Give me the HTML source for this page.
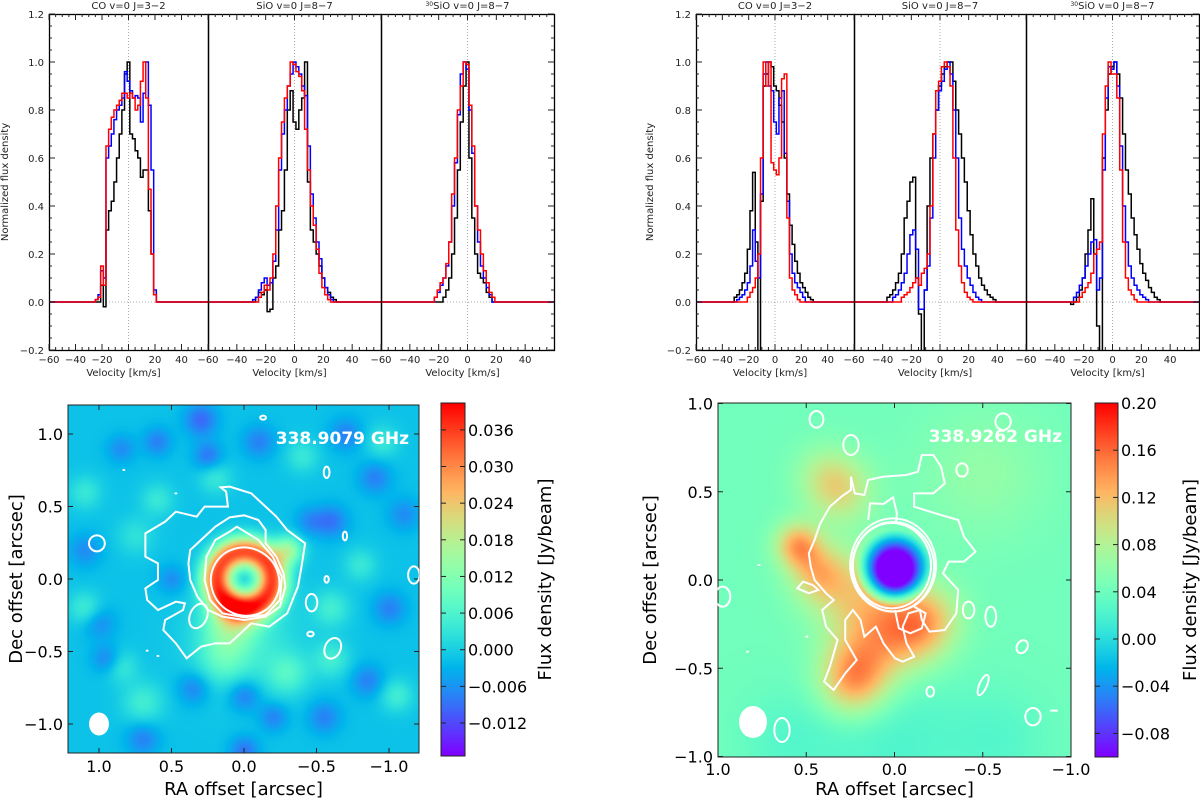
<!DOCTYPE html>
<html><head><meta charset="utf-8">
<style>
html,body{margin:0;padding:0;background:#fff;}
#root{position:relative;width:1200px;height:803px;overflow:hidden;font-family:"DejaVu Sans","Liberation Sans",sans-serif;}
canvas{position:absolute;}
svg{position:absolute;left:0;top:0;}
</style></head>
<body>
<div id="root">
<canvas id="mapL" width="351" height="348" style="left:68px;top:405px"></canvas>
<canvas id="mapR" width="353" height="354" style="left:718px;top:403px"></canvas>
<canvas id="cbL" width="24" height="353" style="left:441px;top:403px"></canvas>
<canvas id="cbR" width="23" height="354" style="left:1095px;top:403px"></canvas>
<svg id="svg" width="1200" height="803"></svg>
</div>
<script>
// ---------------- spectra data (2 km/s channels, first channel velocity given) ----------------
const seriesColors = ["#000000","#0000ff","#ff0000"];
const coL_start = [-22,-24,-24];
const coL_black = [0,0.07,-0.02,0.3,0.38,0.42,0.5,0.6,0.7,0.8,0.95,1.0,0.7,0.68,0.63,0.6,0.52,0.55,0.55,0.38,0.2,0.03,0.0];
const coL_blue  = [0.01,0.03,0.13,0.1,0.6,0.65,0.7,0.76,0.8,0.82,0.85,0.96,0.92,0.88,0.85,0.86,0.85,0.75,0.87,1.0,0.82,0.55,0.05,0.0];
const coL_red   = [0.01,0.02,0.15,0.07,0.65,0.72,0.77,0.8,0.82,0.84,0.87,0.87,0.85,0.87,0.85,0.8,0.82,0.92,1.0,0.85,0.47,0.2,0.03,0.0];
const sioL_start = [-26,-28,-24];
const sioL_black = [0.02,0.04,0.03,0.05,-0.04,-0.03,0.1,0.15,0.3,0.38,0.55,0.8,0.88,0.75,0.72,0.8,0.85,1.0,0.5,0.3,0.25,0.2,0.15,0.1,0.06,0.04,0.02,0.01];
const sioL_blue  = [0.01,0.02,0.05,0.08,0.1,0.07,0.08,0.17,0.3,0.55,0.7,0.8,0.9,0.95,1.0,0.98,0.95,0.9,0.86,0.65,0.45,0.35,0.25,0.18,0.1,0.06,0.03,0.01];
const sioL_red   = [0.02,0.04,0.07,0.05,0.1,0.2,0.4,0.6,0.75,0.85,0.9,1.0,0.99,0.96,0.94,0.88,0.72,0.55,0.4,0.32,0.22,0.12,0.06,0.03,0.01];
const si30L_start = [-18,-22,-22];
const si30L_black = [0.0,0.02,0.05,0.1,0.2,0.35,0.55,0.75,0.9,1.0,0.6,0.35,0.2,0.12,0.1,0.08,0.04,0.02];
const si30L_blue  = [0.02,0.04,0.07,0.1,0.15,0.25,0.4,0.58,0.78,0.95,1.0,0.97,0.8,0.62,0.4,0.25,0.15,0.1,0.06,0.03];
const si30L_red   = [0.02,0.05,0.08,0.1,0.16,0.25,0.45,0.6,0.8,0.9,1.0,0.99,0.82,0.65,0.4,0.3,0.2,0.13,0.08,0.04,0.02];
const coR_start = [-30,-28,-20];
const coR_black = [0.02,0.03,0.05,0.08,0.12,0.22,0.38,0.54,0.25,-0.3,0.42,0.9,0.95,1.0,0.98,0.9,0.88,0.82,0.75,0.6,0.45,0.32,0.24,0.17,0.12,0.08,0.06,0.04,0.02,0.01];
const coR_blue  = [0.01,0.02,0.03,0.05,0.08,0.15,0.3,0.17,0.1,0.45,0.95,1.0,0.9,0.88,0.75,0.7,0.85,0.88,0.62,0.42,0.2,0.12,0.08,0.06,0.04,0.02];
const coR_red   = [0.02,0.04,0.06,0.1,0.2,0.6,1.0,0.9,1.0,0.58,0.55,0.53,0.6,0.93,0.95,0.35,0.1,0.05,0.03,0.01];
const sioR_start = [-36,-32,-26];
const sioR_black = [0.02,0.03,0.05,0.08,0.12,0.2,0.35,0.42,0.5,0.52,0.1,-0.05,-0.25,0.05,0.4,0.6,0.7,0.8,0.9,0.95,0.98,1.0,1.0,0.92,0.8,0.7,0.6,0.5,0.38,0.28,0.2,0.15,0.1,0.07,0.05,0.03,0.02,0.01];
const sioR_blue  = [0.02,0.03,0.05,0.08,0.12,0.2,0.28,0.3,0.22,-0.03,-0.03,0.05,0.15,0.35,0.6,0.8,0.88,0.92,0.97,1.0,0.95,0.8,0.6,0.35,0.22,0.15,0.1,0.07,0.04,0.02,0.01];
const sioR_red   = [0.02,0.03,0.04,0.06,0.08,0.1,0.07,0.12,0.14,0.2,0.4,0.7,0.88,0.92,0.98,1.0,0.98,0.9,0.6,0.3,0.15,0.08,0.04,0.02,0.01];
const si30R_start = [-28,-26,-22];
const si30R_black = [-0.01,0.0,0.02,0.05,0.1,0.2,0.3,0.43,0.2,-0.1,-0.25,0.6,0.8,0.95,0.98,1.0,0.95,0.85,0.7,0.55,0.45,0.35,0.28,0.22,0.16,0.12,0.09,0.06,0.04,0.02,0.01];
const si30R_blue  = [0.02,0.04,0.07,0.1,0.15,0.2,0.25,0.26,0.05,0.1,0.55,0.85,0.98,0.97,1.0,0.9,0.65,0.4,0.25,0.15,0.1,0.07,0.05,0.03,0.02,0.01];
const si30R_red   = [0.02,0.04,0.06,0.08,0.12,0.2,0.22,0.25,0.7,0.9,1.0,0.95,0.95,0.85,0.55,0.25,0.1,0.05,0.03,0.01];

const panelTitles = ["CO v=0 J=3\u22122","SiO v=0 J=8\u22127","SiO v=0 J=8\u22127"];
const xTickLabels = [-60,-40,-20,0,20,40];
const yTickLabels = [-0.2,0.0,0.2,0.4,0.6,0.8,1.0,1.2];

// ---------------- maps data ----------------
const mapLTicks = [1.0,0.5,0.0,-0.5,-1.0];
const mapRTicks = [1.0,0.5,0.0,-0.5,-1.0];
const cbLTicks = [0.036,0.030,0.024,0.018,0.012,0.006,0.000,-0.006,-0.012];
const cbRTicks = [0.20,0.16,0.12,0.08,0.04,0.00,-0.04,-0.08];
const blobsL_ra  = [0.3,0.6,0.25,-0.1,-0.6,-0.9,-1.0,-0.85,1.0,0.95,0.35,0.0,-0.2,-0.55,0.7,0.0,0.5,1.1,0.85,1.1,0.85,-0.6,-1.05,0.2,-0.4,1.1,0.7,-0.8,-0.3,-0.6,0.75,-0.95, 0.1,-0.3,0.0,-0.7,0.6,-1.1,0.15,-0.45];
const blobsL_dec = [1.1,0.95,0.85,0.95,0.4,0.7,-0.2,-0.7,-0.3,-0.55,-0.75,-0.8,-0.95,-0.95,-1.1,-1.18,0.0,0.2,0.9,-0.2,-0.6,-0.55,-0.8,0.7,0.85,0.6,-0.85,0.1,-0.65,-0.2,0.3,0.95, -0.3,0.2,-0.4,1.0,0.55,0.45,-0.55,0.4];
const blobsL_sig = [0.08,0.07,0.07,0.08,0.08,0.08,0.08,0.08,0.08,0.07,0.08,0.08,0.07,0.08,0.08,0.07,0.07,0.08,0.07,0.08,0.08,0.09,0.08,0.08,0.08,0.08,0.1,0.08,0.1,0.09,0.09,0.08, 0.12,0.07,0.25,0.08,0.08,0.08,0.12,0.07];
const blobsL_amp = [-0.008,-0.006,-0.007,-0.006,-0.007,-0.006,-0.006,-0.006,-0.005,-0.006,-0.006,-0.007,-0.006,-0.006,-0.006,-0.007,-0.005,-0.005,-0.005,0.006,0.005,0.006,0.006,0.005,0.005,0.005,0.006,0.005,0.007,0.006,0.004,0.005, 0.012,0.016,0.006,-0.006,0.005,-0.005,0.006,-0.005];
const blobsR_ra  = [0.55,0.45,0.3,0.35,0.1,0.2,-0.1,-0.2,0.25,-0.5,0.0,0.6,-0.6,0.4];
const blobsR_dec = [0.2,0.05,0.5,0.0,-0.2,-0.5,-0.3,-0.2,-0.6,0.6,-0.9,-0.9,-0.9,0.6];
const blobsR_sig = [0.09,0.1,0.13,0.15,0.18,0.15,0.15,0.13,0.13,0.25,0.3,0.2,0.2,0.12];
const blobsR_amp = [0.085,0.04,0.05,0.05,0.065,0.07,0.06,0.04,0.045,0.02,-0.02,-0.015,-0.015,0.03];

// ---------------- helpers ----------------
const NS = "http://www.w3.org/2000/svg";
const svg = document.getElementById("svg");
function mk(tag, attrs, parent){
  const e = document.createElementNS(NS, tag);
  for (const k in attrs) e.setAttribute(k, attrs[k]);
  (parent||svg).appendChild(e);
  return e;
}
function txt(s, x, y, size, anchor, parent, extra){
  const t = mk("text", Object.assign({x:x,y:y,"font-size":size,"text-anchor":anchor||"middle",fill:"#222"}, extra||{}), parent);
  t.textContent = s;
  return t;
}
function fmt(v, d){ const s = Math.abs(v).toFixed(d); return (v<0?"\u2212":"")+s; }

// ---------------- spectra ----------------
const Y0 = 302, YS = 240;
function yv(v){ return Y0 - YS*v; }
function drawSpectraFigure(panels, sets, side, yLabelX, yTitleX){
  const g = mk("g", {});
  
  
  panels.forEach((p, pi) => {
    const [x0, x1] = p;
    const xs = v => x0 + (v + 60) * (x1 - x0) / 120;
    const pg = mk("g", {}, g);
    
    
    const cid = "clip"+side+pi;
    const cp = mk("clipPath", {id:cid}, pg);
    mk("rect", {x:x0, y:14, width:x1-x0, height:336}, cp);
    const z1 = mk("line", {x1:x0, x2:x1, y1:yv(0), y2:yv(0), stroke:"#aaa", "stroke-width":1, "stroke-dasharray":"1,2"}, pg);
    
    
    const z2 = mk("line", {x1:xs(0), x2:xs(0), y1:14, y2:350, stroke:"#aaa", "stroke-width":1, "stroke-dasharray":"1,2"}, pg);
    
    
    const s = sets[pi];
    const names = ["black","blue","red"];
    s.vals.forEach((vals, si) => {
      const v0 = s.starts[si];
      let d = "M" + xs(-60) + "," + yv(0) + " L" + xs(v0-1) + "," + yv(0);
      vals.forEach((val, i) => {
        const vc = v0 + 2*i;
        d += " L" + xs(vc-1) + "," + yv(val) + " L" + xs(vc+1) + "," + yv(val);
      });
      d += " L" + xs(v0 + 2*vals.length - 1) + "," + yv(0) + " L" + xs(60) + "," + yv(0);
      const path = mk("path", {d:d, fill:"none", stroke:seriesColors[si], "stroke-width":1.5, "clip-path":"url(#"+cid+")"}, pg);
      
      
    });
    const fr = mk("rect", {x:x0+0.5, y:14.5, width:x1-x0, height:336, fill:"none", stroke:"#000", "stroke-width":1.3}, pg);
    
    
    for (let v = -60; v < 60; v += 5){
      const major = v % 20 === 0;
      const L = major ? 6 : 3;
      mk("line", {x1:xs(v), x2:xs(v), y1:350, y2:350-L, stroke:"#222", "stroke-width":1}, pg);
      mk("line", {x1:xs(v), x2:xs(v), y1:14, y2:14+L, stroke:"#222", "stroke-width":1}, pg);
    }
    xTickLabels.forEach(v => {
      const t = txt(fmt(v,0), xs(v), 363, 10, "middle", pg);
      
      
    });
    const xt = txt("Velocity [km/s]", (x0+x1)/2 - 5, 376, 10, "middle", pg);
    
    
    const tt = txt(panelTitles[pi], (x0+x1)/2, 9, 10, "middle", pg);
    if (pi === 2){ tt.textContent = ""; const sup = mk("tspan", {"font-size":6, dy:-3}, tt); sup.textContent = "30"; const rest = mk("tspan", {dy:3}, tt); rest.textContent = panelTitles[pi]; }
    
    
  });
  const xL = panels[0][0], xR = panels[2][1];
  for (let v = -0.2; v <= 1.2001; v += 0.05){
    const major = Math.abs(Math.round(v*100) % 20) === 0;
    const L = major ? 6 : 3;
    mk("line", {x1:xL, x2:xL+L, y1:yv(v), y2:yv(v), stroke:"#222"}, g);
    mk("line", {x1:xR, x2:xR-L, y1:yv(v), y2:yv(v), stroke:"#222"}, g);
  }
  yTickLabels.forEach(v => {
    const t = txt(fmt(v,1), yLabelX, yv(v)+4, 10, "end", g);
    
    
  });
  const yt = txt("Normalized flux density", 0, 0, 10, "middle", g, {transform:"translate("+yTitleX+",182) rotate(-90)"});
  
  
}
drawSpectraFigure([[49,208],[208,381],[381,554]], [
  {starts:coL_start, vals:[coL_black,coL_blue,coL_red]},
  {starts:sioL_start, vals:[sioL_black,sioL_blue,sioL_red]},
  {starts:si30L_start, vals:[si30L_black,si30L_blue,si30L_red]}], "left", 44, 8);
drawSpectraFigure([[696,854],[854,1026],[1026,1199]], [
  {starts:coR_start, vals:[coR_black,coR_blue,coR_red]},
  {starts:sioR_start, vals:[sioR_black,sioR_blue,sioR_red]},
  {starts:si30R_start, vals:[si30R_black,si30R_blue,si30R_red]}], "right", 691, 653);

// ---------------- colormap ----------------
function rainbow(t){
  t = Math.max(0, Math.min(1, t));
  const r = Math.min(1, Math.abs(2*t - 0.5)), g = Math.sin(Math.PI*t), b = Math.cos(Math.PI*t/2);
  return [Math.round(r*255), Math.round(g*255), Math.round(b*255)];
}
function fillMap(id, w, h, pxToRa, pxToDec, field, vmin, vmax){
  const c = document.getElementById(id), ctx = c.getContext("2d");
  const img = ctx.createImageData(w, h);
  for (let j = 0; j < h; j++) for (let i = 0; i < w; i++){
    const col = rainbow((field(pxToRa(i), pxToDec(j)) - vmin) / (vmax - vmin));
    const k = 4*(j*w + i);
    img.data[k] = col[0]; img.data[k+1] = col[1]; img.data[k+2] = col[2]; img.data[k+3] = 255;
  }
  ctx.putImageData(img, 0, 0);
}
function fillBar(id, w, h){
  const c = document.getElementById(id), ctx = c.getContext("2d");
  for (let j = 0; j < h; j++){
    const col = rainbow(1 - j/(h-1));
    ctx.fillStyle = "rgb("+col.join(",")+")";
    ctx.fillRect(0, j, w, 1);
  }
}
const LV = [-0.0174, 0.0404];
fillMap("mapL", 351, 348, i => (244 - (68+i))/145, j => (579 - (405+j))/145, (ra, dec) => {
  let v = -0.0015;
  const rr = Math.hypot(ra - 0.0, dec - 0.0);
  v += 0.036 * Math.exp(-Math.pow(rr - 0.19, 2) / (2*0.075*0.075));
  for (let k = 0; k < blobsL_ra.length; k++){
    const d2 = (ra-blobsL_ra[k])**2 + (dec-blobsL_dec[k])**2;
    v += blobsL_amp[k] * Math.exp(-d2/(2*blobsL_sig[k]**2));
  }
  return v;
}, LV[0], LV[1]);
fillBar("cbL", 24, 353);
const RV = [-0.1, 0.2];
fillMap("mapR", 353, 354, i => (894.5 - (718+i))/176.5, j => (580 - (403+j))/177, (ra, dec) => {
  let v = 0.042;
  for (let k = 0; k < blobsR_ra.length; k++){
    const d2 = (ra-blobsR_ra[k])**2 + (dec-blobsR_dec[k])**2;
    v += blobsR_amp[k] * Math.exp(-d2/(2*blobsR_sig[k]**2));
  }
  const r = Math.hypot(ra, dec - 0.07);
  const t = Math.max(0, Math.min(1, (r - 0.1)/0.12));
  return -0.1*(1-t) + v*t;
}, RV[0], RV[1]);
fillBar("cbR", 23, 354);

// ---------------- map axes ----------------
function mapAxes(side, bx, by, bw, bh, cx, cy, scale, ticks, cbx, cby, cbw, cbh, cbTicks, vmin, vmax, dec, label, lx, ly, cbTitleX, yTitleX, tickDy, titleDy){
  const g = mk("g", {});
  
  
  const f = mk("rect", {x:bx, y:by, width:bw, height:bh, fill:"none", stroke:"#222", "stroke-width":1}, g);
  
  
  ticks.forEach(t => {
    const px = cx - scale*t, py = cy - scale*t;
    mk("line", {x1:px, x2:px, y1:by+bh, y2:by+bh-5, stroke:"#222"}, g);
    mk("line", {x1:px, x2:px, y1:by, y2:by+5, stroke:"#222"}, g);
    mk("line", {x1:bx, x2:bx+5, y1:py, y2:py, stroke:"#222"}, g);
    mk("line", {x1:bx+bw, x2:bx+bw-5, y1:py, y2:py, stroke:"#222"}, g);
    const xl = txt(fmt(t,1), px, by+bh+tickDy, 16, "middle", g, {fill:"#000"});
    
    
    const yl = txt(fmt(t,1), bx-5, py+6, 16, "end", g, {fill:"#000"});
    
    
  });
  const xt = txt("RA offset [arcsec]", bx+bw/2, by+bh+titleDy, 18, "middle", g, {fill:"#000"});
  
  
  const yt = txt("Dec offset [arcsec]", 0, 0, 18, "middle", g, {fill:"#000", transform:"translate("+yTitleX+","+(by+bh/2)+") rotate(-90)"});
  
  
  const cf = mk("rect", {x:cbx, y:cby, width:cbw, height:cbh, fill:"none", stroke:"#222"}, g);
  
  
  cbTicks.forEach(t => {
    const py = cby + cbh*(vmax - t)/(vmax - vmin);
    mk("line", {x1:cbx+cbw, x2:cbx+cbw-5, y1:py, y2:py, stroke:"#222"}, g);
    mk("line", {x1:cbx, x2:cbx+5, y1:py, y2:py, stroke:"#222"}, g);
    const l = txt(fmt(t,dec), cbx+cbw+3, py+6, 16, "start", g, {fill:"#000"});
    
    
  });
  const ct = txt("Flux density [Jy/beam]", 0, 0, 18, "middle", g, {fill:"#000", transform:"translate("+cbTitleX+","+(cby+cbh/2)+") rotate(-90)"});
  
  
  const lab = txt(label, lx, ly, 17, "end", g, {fill:"#fff","font-weight":"bold"});
  
  
}
mapAxes("left", 68, 405, 351, 348, 244, 579, 145, mapLTicks, 441, 403, 24, 353, cbLTicks, LV[0], LV[1], 3, "338.9079 GHz", 409, 444, 551, 22, 19, 42);
mapAxes("right", 718, 403, 353, 354, 894.5, 580, 176.5, mapRTicks, 1095, 403, 23, 354, cbRTicks, RV[0], RV[1], 2, "338.9262 GHz", 1062, 442, 1196, 656, 18, 38);

// ---------------- contours ----------------
function contourGroup(name, tx, ty, sx, sy, clip){
  const g = mk("g", {transform:"translate("+tx+","+ty+") scale("+sx+","+sy+")", "clip-path":"url(#"+clip+")"});
  
  
  return g;
}
const cpL = mk("clipPath", {id:"cpL", clipPathUnits:"userSpaceOnUse"});
mk("rect", {x:190, y:75, width:978, height:1045}, cpL);
const cpR = mk("clipPath", {id:"cpR", clipPathUnits:"userSpaceOnUse"});
mk("rect", {x:307, y:70, width:923, height:1060}, cpR);
const st = {fill:"none", stroke:"#fff", "stroke-width":2, "vector-effect":"non-scaling-stroke"};
function poly(pts, g, closed){ mk("path", Object.assign({d:"M"+pts.map(p=>p.join(",")).join(" L")+(closed?" Z":"")}, st), g); }
function ell(cx, cy, rx, ry, g, rot){ mk("ellipse", Object.assign({cx:cx, cy:cy, rx:rx, ry:ry, transform:"rotate("+(rot||0)+" "+cx+" "+cy+")"}, st), g); }
function dot(cx, cy, g){ mk("ellipse", {cx:cx, cy:cy, rx:4, ry:3, fill:"#fff"}, g); }

const gL = contourGroup("left-contours", 0, 380, 1/2.786, 1/3, "cpL");
poly([[615,322],[630,335],[635,380],[570,380],[548,410],[490,395],[460,425],[405,460],[405,530],[440,550],[440,600],[405,625],[410,660],[440,690],[490,665],[515,670],[510,690],[460,720],[455,750],[490,790],[520,835],[560,800],[600,790],[640,790],[700,730],[750,740],[800,700],[830,620],[840,560],[850,490],[800,450],[770,410],[730,370],[700,340],[670,330],[640,320]], gL, true);
poly([[530,510],[560,480],[600,440],[640,412],[680,406],[720,420],[740,450],[740,490],[770,530],[790,580],[795,620],[780,680],[740,710],[680,720],[620,710],[580,690],[550,650],[530,600],[525,550]], gL, true);
poly([[575,530],[600,480],[640,455],[660,440],[690,460],[720,480],[760,530],[785,590],[780,660],[740,705],[680,712],[620,700],[585,660],[570,600]], gL, true);
ell(683, 605, 95, 103, gL, -15);
ell(270, 490, 22, 24, gL); ell(910, 277, 8, 17, gL); ell(961, 468, 6, 13, gL);
ell(1153, 585, 16, 26, gL); ell(910, 598, 6, 10, gL); ell(868, 668, 16, 26, gL);
ell(865, 762, 9, 7, gL); ell(927, 805, 22, 32, gL, 20); ell(553, 708, 24, 38, gL, 20); ell(733, 113, 8, 6, gL);
dot(345,270,gL); dot(490,340,gL); dot(410,812,gL); dot(440,828,gL);
const bL = mk("ellipse", {cx:99, cy:724, rx:10, ry:11.5, fill:"#fff"});



const gR = contourGroup("right-contours", 600, 380, 1/2.61, 1/3, "cpR");
ell(765, 555, 112, 140, gR); ell(765, 560, 107, 134, gR); ell(762, 557, 102, 128, gR);
poly([[655,290],[665,340],[690,345],[700,300],[740,290],[800,285],[830,275],[840,225],[870,225],[890,260],[900,310],[870,340],[820,340],[820,380],[875,400],[935,420],[950,470],[980,515],[950,545],[910,545],[895,580],[935,630],[930,700],[900,750],[860,755],[840,720],[835,690],[805,700],[790,740],[800,790],[820,830],[790,845],[770,835],[740,790],[720,740],[690,770],[680,720],[660,690],[640,720],[640,780],[670,840],[640,880],[610,930],[585,905],[600,860],[620,780],[590,740],[580,690],[610,660],[590,640],[560,600],[550,560],[545,520],[560,480],[575,430],[600,380],[630,350],[655,330]], gR, true);
poly([[700,420],[705,370],[740,372],[765,352],[775,400],[772,430]], gR, false);
poly([[770,690],[780,745],[810,760],[840,745],[850,700],[820,680]], gR, false);
poly([[515,625],[530,605],[555,615],[570,630],[545,640]], gR, true);
ell(565,118,18,25,gR); ell(655,195,20,30,gR); ell(1052,125,20,25,gR); ell(945,270,15,20,gR);
ell(962,690,15,25,gR); ell(1020,710,14,30,gR); ell(1102,800,14,20,gR,20); ell(1000,915,10,32,gR,20);
ell(862,935,10,15,gR); ell(1130,1010,20,26,gR); ell(475,1050,20,36,gR); ell(320,650,20,30,gR);
mk("line", Object.assign({x1:1175,x2:1195,y1:992,y2:992}, st), gR);
dot(415,555,gR); dot(385,815,gR); dot(540,770,gR);
const bR = mk("ellipse", {cx:753, cy:722, rx:14, ry:16, fill:"#fff"});


</script>
</body></html>
